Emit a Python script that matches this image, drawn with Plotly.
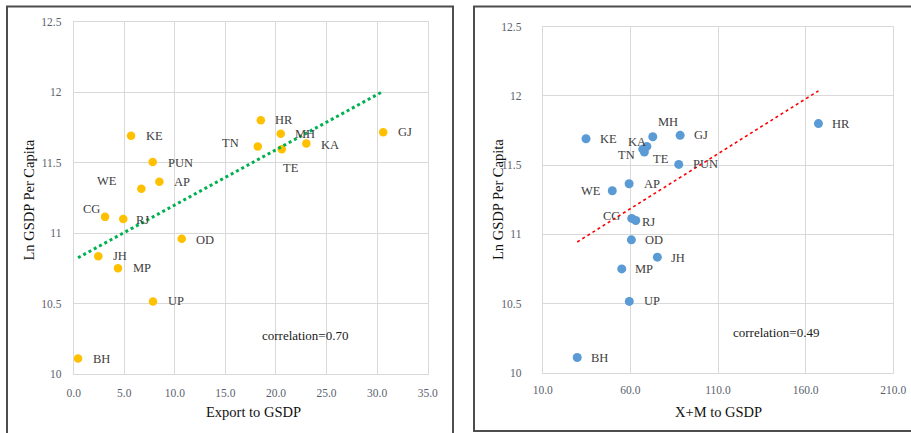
import numpy as np
import plotly.graph_objects as go

# ---------------- data ----------------
states = ["KE", "PUN", "AP", "WE", "CG", "RJ", "OD", "JH", "MP", "UP",
          "BH", "HR", "MH", "TN", "TE", "KA", "GJ"]
ln_gsdp_pc = [11.69, 11.505, 11.365, 11.315, 11.115, 11.10, 10.96, 10.835, 10.75, 10.515,
              10.11, 11.80, 11.705, 11.615, 11.595, 11.635, 11.715]
export_to_gsdp = [5.67, 7.81, 8.47, 6.69, 3.1, 4.9, 10.68, 2.43, 4.38, 7.84,
                  0.43, 18.5, 20.47, 18.2, 20.57, 23.0, 30.6]
trade_to_gsdp = [34.7, 87.6, 59.3, 49.7, 60.8, 63.1, 60.6, 75.4, 55.1, 59.4,
                 29.7, 167.3, 72.8, 67.1, 68.0, 69.4, 88.4]

y_ticks = [10, 10.5, 11, 11.5, 12, 12.5]
y_ticktext = ["10", "10.5", "11", "11.5", "12", "12.5"]
x1_ticks = [0, 5, 10, 15, 20, 25, 30, 35]
x1_ticktext = ["0.0", "5.0", "10.0", "15.0", "20.0", "25.0", "30.0", "35.0"]
x2_ticks = [10, 60, 110, 160, 210]
x2_ticktext = ["10.0", "60.0", "110.0", "160.0", "210.0"]
corr_left = "correlation=0.70"
corr_right = "correlation=0.49"

# ---------------- layout helpers ----------------
W, H = 911, 433
def px(x):
    return x / W
def py(y):
    return 1 - y / H

FONT = "Liberation Serif"
TICKC = "#5a5f6e"
LABC = "#404040"

fig = go.Figure()

# scatter points
fig.add_trace(go.Scatter(x=export_to_gsdp, y=ln_gsdp_pc, mode="markers",
                         marker=dict(color="#FFC000", size=8.5),
                         xaxis="x", yaxis="y", showlegend=False, hoverinfo="skip"))
fig.add_trace(go.Scatter(x=trade_to_gsdp, y=ln_gsdp_pc, mode="markers",
                         marker=dict(color="#5B9BD5", size=9),
                         xaxis="x2", yaxis="y2", showlegend=False, hoverinfo="skip"))

# linear trendlines (OLS over data range)
xa = np.array(export_to_gsdp); ya = np.array(ln_gsdp_pc)
b1, a1 = np.polyfit(xa, ya, 1)
xl = np.array([xa.min(), xa.max()])
fig.add_trace(go.Scatter(x=xl, y=a1 + b1 * xl, mode="lines",
                         line=dict(color="#00B050", width=3, dash="dot"),
                         xaxis="x", yaxis="y", showlegend=False, hoverinfo="skip"))
xb = np.array(trade_to_gsdp)
b2, a2 = np.polyfit(xb, ya, 1)
xr = np.array([xb.min(), xb.max()])
fig.add_trace(go.Scatter(x=xr, y=a2 + b2 * xr, mode="lines",
                         line=dict(color="#FF0000", width=1.6, dash="dot"),
                         xaxis="x2", yaxis="y2", showlegend=False, hoverinfo="skip"))

# label offsets (anchor, dx px, dy px down)
off_left = {
    "KE": ("left", 13, 0), "PUN": ("left", 13, 1), "AP": ("left", 13, 0),
    "WE": ("right", -22, -8), "CG": ("right", -3, -8), "RJ": ("left", 11, 1),
    "OD": ("left", 12.5, 1), "JH": ("left", 12.5, 0), "MP": ("left", 13, 0),
    "UP": ("left", 12.5, 0), "BH": ("left", 12.5, 0), "HR": ("left", 12.5, 0),
    "MH": ("left", 12.5, 0), "TN": ("right", -17, -3), "TE": ("center", 9.5, 18.6),
    "KA": ("left", 13, 1), "GJ": ("left", 12.5, 0),
}
off_right = {
    "KE": ("left", 12, 0), "PUN": ("left", 12, 0), "AP": ("left", 12.5, 0),
    "WE": ("right", -9, 0.7), "CG": ("right", -10, -2), "RJ": ("left", 4.3, 1.7),
    "OD": ("left", 12, 0), "JH": ("left", 12, 0.6), "MP": ("left", 11.6, 0),
    "UP": ("left", 12.4, 0), "BH": ("left", 11.7, 0.7), "HR": ("left", 11.7, 0),
    "MH": ("center", 15.3, -15), "TN": ("right", -6, 5.6), "TE": ("left", 6.4, 7),
    "KA": ("right", 1, -4), "GJ": ("left", 12.3, 0),
}

annotations = []
for s, xv, tv, yv in zip(states, export_to_gsdp, trade_to_gsdp, ln_gsdp_pc):
    anc, dx, dy = off_left[s]
    annotations.append(dict(x=xv, y=yv, xref="x", yref="y", text=s, showarrow=False,
                            xanchor=anc, yanchor="middle", xshift=dx, yshift=-dy,
                            font=dict(family=FONT, size=12.5, color=LABC)))
    anc, dx, dy = off_right[s]
    annotations.append(dict(x=tv, y=yv, xref="x2", yref="y2", text=s, showarrow=False,
                            xanchor=anc, yanchor="middle", xshift=dx, yshift=-dy,
                            font=dict(family=FONT, size=12.5, color=LABC)))

# correlation notes
annotations.append(dict(x=22.9, y=10.273, xref="x", yref="y", text=corr_left, showarrow=False,
                        xanchor="center", yanchor="middle",
                        font=dict(family=FONT, size=13, color="#1a1a1a")))
annotations.append(dict(x=143.0, y=10.292, xref="x2", yref="y2", text=corr_right, showarrow=False,
                        xanchor="center", yanchor="middle",
                        font=dict(family=FONT, size=13, color="#1a1a1a")))

# axis titles
tfont = dict(family=FONT, size=14.5, color="#111111")
annotations += [
    dict(x=px(253), y=py(411.7), xref="paper", yref="paper", text="Export to GSDP",
         showarrow=False, xanchor="center", yanchor="middle", font=tfont),
    dict(x=px(718), y=py(411.7), xref="paper", yref="paper", text="X+M to GSDP",
         showarrow=False, xanchor="center", yanchor="middle", font=tfont),
    dict(x=px(28.5), y=py(200), xref="paper", yref="paper", text="Ln GSDP Per Capita",
         showarrow=False, textangle=-90, xanchor="center", yanchor="middle", font=tfont),
    dict(x=px(498), y=py(200), xref="paper", yref="paper", text="Ln GSDP Per Capita",
         showarrow=False, textangle=-90, xanchor="center", yanchor="middle", font=tfont),
]

# panel frames
frame = dict(color="#4d4d4d", width=2)
shapes = [
    dict(type="rect", xref="paper", yref="paper", x0=px(7), x1=px(453), y0=py(445), y1=py(6.5), line=frame),
    dict(type="rect", xref="paper", yref="paper", x0=px(474), x1=px(925), y0=py(431), y1=py(6.5), line=frame),
]

grid = "#d9d9d9"
tickfont = dict(family=FONT, size=11.5, color=TICKC)
common = dict(showgrid=True, gridcolor=grid, gridwidth=1, zeroline=False,
              showline=True, linecolor=grid, linewidth=1, mirror=True, automargin=False,
              ticks="outside", tickcolor="rgba(0,0,0,0)", tickfont=tickfont, fixedrange=True)

fig.update_layout(
    width=W, height=H, margin=dict(l=0, r=0, t=0, b=0, autoexpand=False),
    paper_bgcolor="white", plot_bgcolor="white",
    xaxis=dict(domain=[px(73.7), px(427.7)], range=[0, 35], tickvals=x1_ticks,
               ticktext=x1_ticktext, anchor="y", ticklen=8, **common),
    yaxis=dict(domain=[py(374), py(21.7)], range=[10, 12.5], tickvals=y_ticks,
               ticktext=y_ticktext, anchor="x", ticklen=9, **common),
    xaxis2=dict(domain=[px(542.7), px(893.3)], range=[10, 210], tickvals=x2_ticks,
                ticktext=x2_ticktext, anchor="y2", ticklen=6, **common),
    yaxis2=dict(domain=[py(372.7), py(26.7)], range=[10, 12.5], tickvals=y_ticks,
                ticktext=y_ticktext, anchor="x2", ticklen=18, **common),
    annotations=annotations, shapes=shapes, showlegend=False,
)

fig.write_html("out.html", config={"displayModeBar": False},
               post_script="document.body.style.margin='0';document.body.style.overflow='hidden';")
